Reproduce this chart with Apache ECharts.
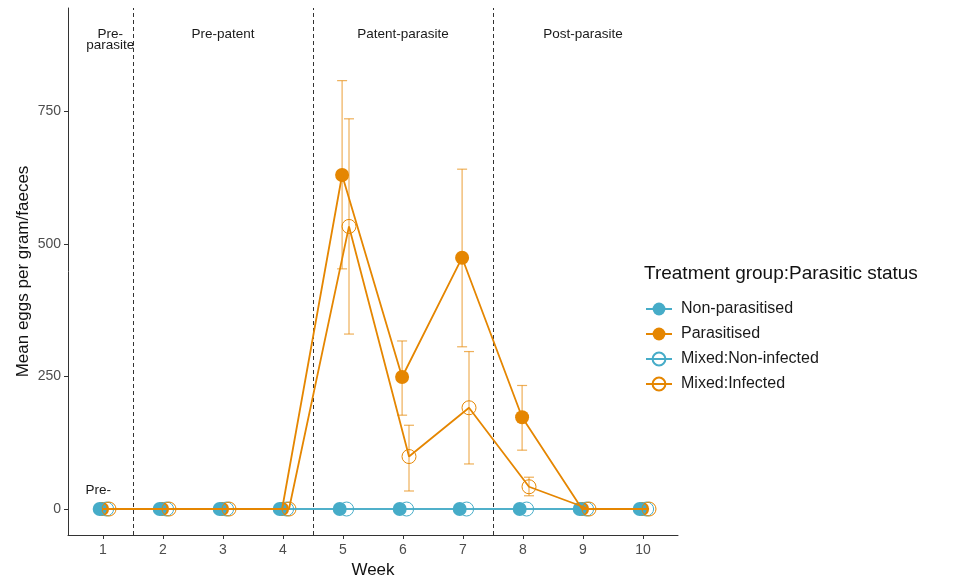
<!DOCTYPE html>
<html><head><meta charset="utf-8">
<script src="https://cdn.jsdelivr.net/npm/echarts@6/dist/echarts.min.js"></script>
<style>html,body{margin:0;padding:0;background:#fff}#c{width:966px;height:581px}</style>
</head><body><div id="c"></div>
<script>
const weeks = [1,2,3,4,5,6,7,8,9,10];
const weekTicks = [1,2,3,4,5,6,7,8,9,10];
const yTicks = [0,250,500,750];
const nonParasitised = [0,0,0,0,0,0,0,0,0,0];
const parasitised = [0,0,0,0,630,249,474,173,0,0];
const parasitisedLow = [0,0,0,0,453,177,306,111,0,0];
const parasitisedHigh = [0,0,0,0,808,317,641,233,0,0];
const mixedNonInfected = [0,0,0,0,0,0,0,0,0,0];
const mixedInfected = [0,0,0,0,533,99,191,42,0,0];
const mixedInfectedLow = [0,0,0,0,330,34,85,25,0,0];
const mixedInfectedHigh = [0,0,0,0,736,158,297,60,0,0];
const phaseBreaks = [1.5,4.5,7.5];
const phaseLabels = [
  {x:1.12, y:885, text:'Pre-\nparasite'},
  {x:3, y:896, text:'Pre-patent'},
  {x:6, y:896, text:'Patent-parasite'},
  {x:9, y:896, text:'Post-parasite'}
];
const strayLabel = {x:0.92, y:36, text:'Pre-'};
const allLabels = phaseLabels.concat([strayLabel]);

const BLUE = '#46ACC8', ORANGE = '#E58601';
const offsets = {np:-0.055, p:-0.015, mni:0.06, mi:0.1};

const pts = (vals, off) => weeks.map((w,i)=>[w+off, vals[i]]);
const errData = (lo, hi, off) => weeks.map((w,i)=>[w+off, lo[i], hi[i]]).filter(d=>d[2]>d[1]);

function errSeries(data, color){
  return {
    type:'custom', silent:true, z:2,
    data: data,
    renderItem(params, api){
      const x = api.value(0), lo = api.value(1), hi = api.value(2);
      const a = api.coord([x, lo]), b = api.coord([x, hi]);
      const w = 5;
      const st = {stroke: color, lineWidth: 1.2, opacity: 0.65};
      return {type:'group', children:[
        {type:'line', shape:{x1:a[0], y1:a[1], x2:b[0], y2:b[1]}, style:st},
        {type:'line', shape:{x1:a[0]-w, y1:a[1], x2:a[0]+w, y2:a[1]}, style:st},
        {type:'line', shape:{x1:b[0]-w, y1:b[1], x2:b[0]+w, y2:b[1]}, style:st}
      ]};
    }
  };
}
const EMPTY = 'rgba(255,255,255,0)';
function lineSeries(name, vals, off, color, filled, width, z){
  return {
    name, type:'line', z, data:pts(vals, off),
    symbol:'circle', symbolSize:14, showSymbol:false,
    itemStyle: filled ? {color} : {color:EMPTY, borderColor:color, borderWidth:1},
    lineStyle:{color, width}
  };
}
function pointSeries(name, vals, off, color, filled, z){
  return {
    name, type:'scatter', z, data:pts(vals, off),
    symbol:'circle', symbolSize:14,
    itemStyle: filled ? {color, opacity:1} : {color:EMPTY, borderColor:color, borderWidth:1, opacity:1}
  };
}

const chart = echarts.init(document.getElementById('c'), null, {renderer:'canvas'});
chart.setOption({
  animation:false,
  textStyle:{fontFamily:'Liberation Sans, Arial, sans-serif'},
  grid:{left:68, right:288, top:8, bottom:46, outerBoundsMode:'none', containLabel:false},
  title:{text:'Treatment group:Parasitic status', left:639, top:259,
    textStyle:{fontSize:19, fontWeight:'normal', color:'#111', fontFamily:'Liberation Sans, Arial, sans-serif'}},
  legend:{
    orient:'vertical', left:640, top:296, itemWidth:26, itemHeight:16, itemGap:9,
    textStyle:{fontSize:16, color:'#1a1a1a', padding:[0,0,0,4]},
    data:['Non-parasitised','Parasitised','Mixed:Non-infected','Mixed:Infected']
  },
  xAxis:{
    type:'value', min:0.4167, max:10.5833,
    name:'Week', nameLocation:'middle', nameGap:27, nameMoveOverlap:false,
    nameTextStyle:{fontSize:17, color:'#111'},
    splitLine:{show:false},
    axisLine:{onZero:false, lineStyle:{color:'#333', width:1}},
    axisTick:{customValues:weekTicks, length:4, lineStyle:{color:'#333'}},
    axisLabel:{customValues:weekTicks, fontSize:14, color:'#4d4d4d', margin:8}
  },
  yAxis:{
    type:'value', min:-49, max:945,
    name:'Mean eggs per gram/faeces', nameLocation:'middle', nameGap:36, nameMoveOverlap:false,
    nameTextStyle:{fontSize:17, color:'#111'},
    splitLine:{show:false},
    axisLine:{show:true, onZero:false, lineStyle:{color:'#333', width:1}},
    axisTick:{show:true, customValues:yTicks, length:4, lineStyle:{color:'#333'}},
    axisLabel:{customValues:yTicks, fontSize:14, color:'#4d4d4d', margin:7}
  },
  series:[
    lineSeries('Non-parasitised', nonParasitised, offsets.np, BLUE, true, 1.5, 7),
    lineSeries('Parasitised', parasitised, offsets.p, ORANGE, true, 1.8, 9),
    lineSeries('Mixed:Non-infected', mixedNonInfected, offsets.mni, BLUE, false, 1.5, 8),
    lineSeries('Mixed:Infected', mixedInfected, offsets.mi, ORANGE, false, 1.8, 10),
    errSeries(errData(parasitisedLow, parasitisedHigh, offsets.p), ORANGE),
    errSeries(errData(mixedInfectedLow, mixedInfectedHigh, offsets.mi), ORANGE),
    pointSeries('Parasitised', parasitised, offsets.p, ORANGE, true, 3),
    pointSeries('Non-parasitised', nonParasitised, offsets.np, BLUE, true, 4),
    pointSeries('Mixed:Non-infected', mixedNonInfected, offsets.mni, BLUE, false, 5),
    pointSeries('Mixed:Infected', mixedInfected, offsets.mi, ORANGE, false, 6),
    {
      type:'line', z:11, data:[], silent:true,
      markLine:{silent:true, symbol:'none', label:{show:false},
        lineStyle:{color:'#333', type:[4,3], width:1},
        data: phaseBreaks.map(v=>({xAxis:v}))}
    },
    {
      type:'custom', silent:true, z:12,
      data: allLabels.map(d=>[d.x, d.y]),
      renderItem(params, api){
        const c = api.coord([api.value(0), api.value(1)]);
        return {type:'text', x:c[0], y:c[1], style:{
          text: allLabels[params.dataIndex].text,
          align:'center', verticalAlign:'middle', fontSize:13.5, lineHeight:11,
          fill:'#1a1a1a', fontFamily:'Liberation Sans, Arial, sans-serif'}};
      }
    }
  ]
});
</script></body></html>
